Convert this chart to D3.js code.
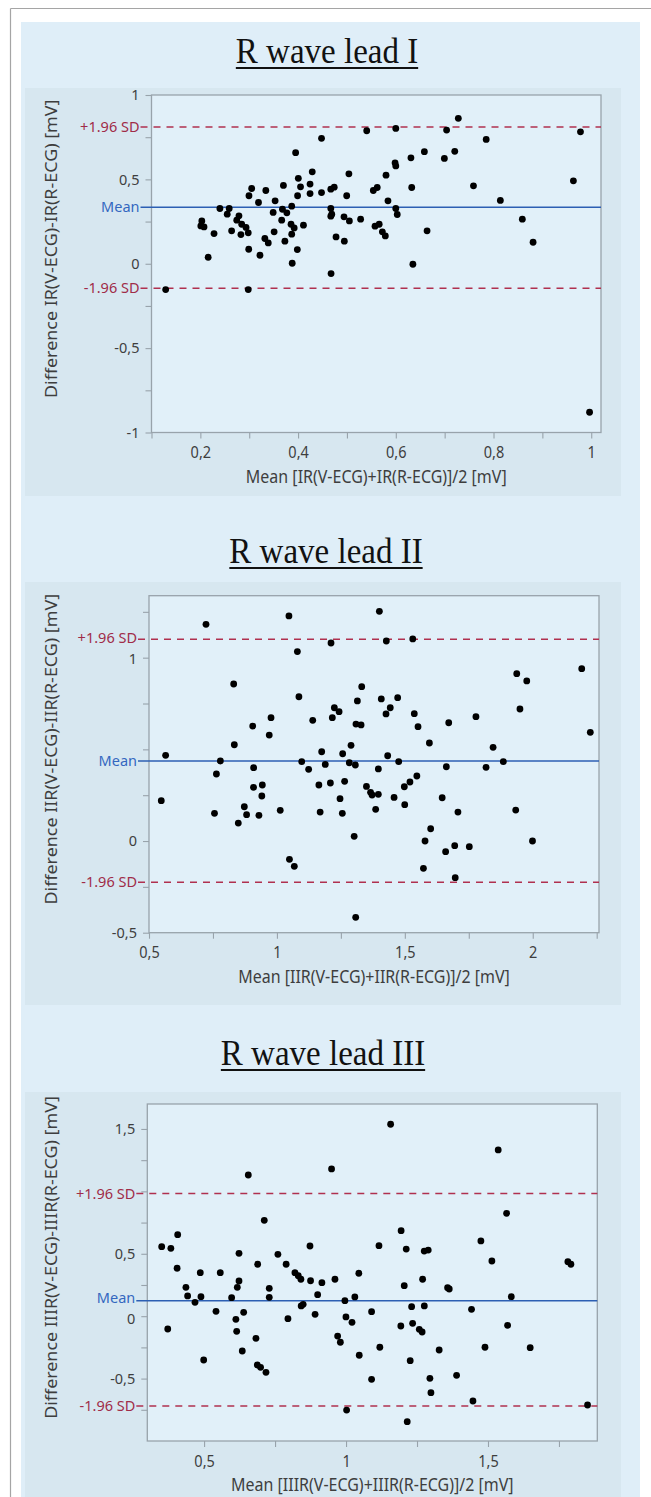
<!DOCTYPE html>
<html><head><meta charset="utf-8">
<script src="https://cdn.jsdelivr.net/npm/d3@7"></script>
<style>body{margin:0;background:#fff}svg{display:block}</style>
</head><body>
<svg id="c" width="651" height="1497"></svg>
<script>
// ---------- DATA ----------
const titles = ["R wave lead I", "R wave lead II", "R wave lead III"];
const xTitles = ["Mean [IR(V-ECG)+IR(R-ECG)]/2 [mV]", "Mean [IIR(V-ECG)+IIR(R-ECG)]/2 [mV]", "Mean [IIIR(V-ECG)+IIIR(R-ECG)]/2 [mV]"];
const yTitles = ["Difference IR(V-ECG)-IR(R-ECG) [mV]", "Difference IIR(V-ECG)-IIR(R-ECG) [mV]", "Difference IIIR(V-ECG)-IIIR(R-ECG) [mV]"];
const limitLabels = ["+1.96 SD", "Mean", "-1.96 SD"];

// [mean, difference]
const lead1Points = [
[0.5405,0.788],[0.448,0.743],[0.395,0.658],[0.429,0.545],[0.4005,0.506],[0.405,0.456],[0.4245,0.472],[0.4245,0.416],[0.399,0.403],[0.448,0.422],[0.467,0.442],[0.474,0.454],[0.504,0.533],[0.4995,0.403],[0.370,0.464],[0.334,0.434],[0.305,0.446],[0.2995,0.403],[0.319,0.363],[0.353,0.373],[0.349,0.304],[0.368,0.323],[0.377,0.302],[0.387,0.341],[0.3665,0.258],[0.3856,0.234],[0.392,0.2125],[0.411,0.2285],[0.387,0.175],[0.373,0.1335],[0.351,0.189],[0.3985,0.084],[0.388,0.003],[0.332,0.1495],[0.339,0.1235],[0.322,0.0505],[0.299,0.086],[0.240,0.3275],[0.259,0.3275],[0.255,0.294],[0.279,0.284],[0.2745,0.258],[0.2846,0.234],[0.2935,0.215],[0.298,0.183],[0.283,0.173],[0.264,0.195],[0.203,0.254],[0.201,0.224],[0.2075,0.218],[0.228,0.179],[0.216,0.0385],[0.129,-0.153],[0.298,-0.153],[0.467,0.3275],[0.467,0.282],[0.469,0.294],[0.494,0.278],[0.505,0.254],[0.4777,0.159],[0.4947,0.1335],[0.528,0.264],[0.4675,-0.058],
[0.728,0.862],[0.704,0.792],[0.600,0.802],[0.785,0.737],[0.978,0.782],[0.6585,0.664],[0.7207,0.666],[0.6994,0.624],[0.631,0.628],[0.5985,0.598],[0.600,0.580],[0.580,0.525],[0.562,0.452],[0.554,0.434],[0.6326,0.452],[0.759,0.462],[0.9635,0.4915],[0.584,0.373],[0.600,0.3275],[0.603,0.292],[0.814,0.375],[0.5575,0.2225],[0.566,0.234],[0.5725,0.189],[0.5786,0.165],[0.664,0.195],[0.859,0.264],[0.881,0.1275],[0.635,-0.003],[0.9966,-0.88]
];
const lead2Points = [
[0.7228,1.182],[1.047,1.2275],[1.080,1.033],[1.2115,1.080],[0.831,0.8565],[1.086,0.787],[1.3315,0.842],[1.3145,0.764],[1.2245,0.727],[1.243,0.7055],[1.2166,0.673],[0.977,0.673],[0.9054,0.627],[0.970,0.578],[1.140,0.6585],[1.309,0.638],[1.329,0.633],[0.8335,0.525],[1.2897,0.522],[0.565,0.4675],[1.175,0.487],[1.257,0.476],[0.779,0.4365],[1.097,0.433],[1.283,0.427],[1.3066,0.4146],[1.189,0.418],[0.909,0.400],[1.124,0.391],
[1.4005,1.253],[1.4277,1.091],[1.531,1.102],[1.9375,0.9127],[1.9766,0.873],[2.1915,0.940],[1.408,0.775],[1.472,0.782],[1.443,0.727],[1.4265,0.693],[1.537,0.6945],[1.5516,0.6236],[1.950,0.720],[1.778,0.678],[1.6716,0.645],[1.596,0.5346],[1.845,0.511],[2.225,0.593],[1.433,0.465],[1.476,0.433],[1.885,0.433],[1.3965,0.393],[1.6623,0.405],[1.8175,0.402],
[0.548,0.220],[0.7635,0.3655],[0.756,0.151],[0.8726,0.187],[0.8815,0.1435],[0.849,0.098],[0.9085,0.293],[0.943,0.3055],[0.941,0.2455],[0.9297,0.140],[1.013,0.1675],[1.049,-0.100],[1.068,-0.138],[1.164,0.3055],[1.209,0.3164],[1.169,0.158],[1.2467,0.2308],[1.2647,0.3257],[1.2557,0.151],[1.302,0.0256],[1.308,-0.416],[1.35,0.298],[1.366,0.2655],[1.372,0.251],[1.3964,0.2546],[1.386,0.173],[1.458,0.238],[1.498,0.296],[1.520,0.322],[1.547,0.3546],[1.4996,0.198],[1.579,0.000],[1.5727,-0.149],[1.601,0.067],[1.646,0.236],[1.6595,-0.058],[1.695,-0.0256],[1.697,-0.2],[1.7076,0.158],[1.752,-0.031],[1.9335,0.169],[1.999,0.000]
];
const lead3Points = [
[0.949,1.1795],[0.6557,1.131],[0.712,0.768],[0.407,0.653],[0.3507,0.557],[0.383,0.544],[0.405,0.384],[0.4866,0.3486],[0.557,0.3486],[0.623,0.504],[0.6887,0.416],[0.760,0.496],[0.789,0.416],[0.820,0.3486],[0.873,0.5625],[1.045,0.344],
[0.436,0.2316],[0.442,0.162],[0.489,0.156],[0.468,0.111],[0.372,-0.1026],[0.4986,-0.351],[0.542,0.039],[0.623,0.282],[0.617,0.2316],[0.597,0.148],[0.612,-0.025],[0.6394,0.031],[0.6148,-0.121],[0.6345,-0.279],[0.6827,-0.177],[0.6873,-0.391],[0.699,-0.41],[0.718,-0.45],[0.7296,0.2236],[0.7296,0.1514],[0.7954,-0.02],[0.8317,0.3245],[0.841,0.296],[0.875,0.284],[0.915,0.2685],[0.961,0.296],[0.900,0.172],[0.849,0.095],[0.842,0.082],[0.891,0.015],[0.996,0.124],[1.031,0.154],[0.9997,-0.006],[1.021,-0.049],[0.9704,-0.159],[0.98,-0.209],[1.0465,-0.313],[1.002,-0.752],
[1.157,1.5376],[1.536,1.3317],[1.5655,0.8245],[1.194,0.685],[1.116,0.565],[1.212,0.538],[1.2754,0.522],[1.2895,0.530],[1.475,0.6026],[1.5137,0.442],[1.7813,0.437],[1.792,0.416],
[1.205,0.2444],[1.2697,0.296],[1.3577,0.228],[1.3635,0.218],[1.582,0.156],[1.09,0.036],[1.231,0.076],[1.2757,0.082],[1.442,0.055],[1.193,-0.0785],[1.2345,-0.057],[1.258,-0.105],[1.268,-0.1266],[1.569,-0.073],[1.119,-0.249],[1.328,-0.271],[1.4894,-0.249],[1.6486,-0.252],[1.226,-0.3566],[1.09,-0.5056],[1.2954,-0.4976],[1.299,-0.613],[1.3894,-0.4736],[1.447,-0.6795],[1.8507,-0.7115],[1.2155,-0.845]
];

// limits: [+1.96 SD, mean, -1.96 SD]
const lead1Limits = [0.81, 0.335, -0.145];
const lead2Limits = [1.10, 0.436, -0.225];
const lead3Limits = [0.982, 0.124, -0.72];

const lead1XDomain = [0.1, 1.02], lead1YDomain = [-1, 1];
const lead2XDomain = [0.5, 2.259], lead2YDomain = [-0.5, 1.338];
const lead3XDomain = [0.3, 1.885], lead3YDomain = [-1, 1.70];

const lead1XTicks = [0.1,0.2,0.3,0.4,0.5,0.6,0.7,0.8,0.9,1.0];
const lead1XLabelValues = [0.2,0.4,0.6,0.8,1.0];
const lead1XLabels = ["0,2","0,4","0,6","0,8","1"];
const lead1YTicks = [-1,-0.75,-0.5,-0.25,0,0.25,0.5,0.75,1];
const lead1YLabelValues = [-1,-0.5,0,0.5,1];
const lead1YLabels = ["-1","-0,5","0","0,5","1"];

const lead2XTicks = [0.5,0.75,1,1.25,1.5,1.75,2,2.25];
const lead2XLabelValues = [0.5,1,1.5,2];
const lead2XLabels = ["0,5","1","1,5","2"];
const lead2YTicks = [-0.5,-0.25,0,0.25,0.5,0.75,1,1.25];
const lead2YLabelValues = [-0.5,0,1];
const lead2YLabels = ["-0,5","0","1"];

const lead3XTicks = [0.5,0.75,1,1.25,1.5,1.75];
const lead3XLabelValues = [0.5,1,1.5];
const lead3XLabels = ["0,5","1","1,5"];
const lead3YTicks = [-0.75,-0.5,-0.25,0,0.25,0.5,0.75,1,1.25,1.5];
const lead3YLabelValues = [-0.5,0,0.5,1.5];
const lead3YLabels = ["-0,5","0","0,5","1,5"];

// ---------- LAYOUT / STYLE ----------
const S = 1.12; // vertical text stretch seen in the reference (titles)
const C = {
  figBg: "#dfeef8", panelBg: "#d7e7f0", plotBg: "#e1f0f9", frame: "#98a3ab",
  tickText: "#3e3e3e", mean: "#2c5fb3", limit: "#b0304f", dot: "#000"
};
const layout = [
  {l:151.5, r:601, t:95, b:432.5, bg0:88, bg1:496, ty:63, tx:327},
  {l:149, r:599, t:595.7, b:932.7, bg0:582, bg1:1005, ty:563, tx:326},
  {l:147.3, r:597.3, t:1104, b:1441, bg0:1092, bg1:1500, ty:1065, tx:323}
];
const panels = [
  {points:lead1Points, limits:lead1Limits, xd:lead1XDomain, yd:lead1YDomain, xt:lead1XTicks, xlv:lead1XLabelValues, xl:lead1XLabels, yt:lead1YTicks, ylv:lead1YLabelValues, yl:lead1YLabels},
  {points:lead2Points, limits:lead2Limits, xd:lead2XDomain, yd:lead2YDomain, xt:lead2XTicks, xlv:lead2XLabelValues, xl:lead2XLabels, yt:lead2YTicks, ylv:lead2YLabelValues, yl:lead2YLabels},
  {points:lead3Points, limits:lead3Limits, xd:lead3XDomain, yd:lead3YDomain, xt:lead3XTicks, xlv:lead3XLabelValues, xl:lead3XLabels, yt:lead3YTicks, ylv:lead3YLabelValues, yl:lead3YLabels}
];

const svg = d3.select("#c");
const SANS = "'Noto Sans', 'Open Sans', sans-serif";
const LBL = 14.5;

// outer frame
svg.append("rect").attr("width",651).attr("height",1497).attr("fill","#fff");
svg.append("rect").attr("x",21).attr("y",22).attr("width",619).attr("height",1480).attr("fill",C.figBg);
svg.append("line").attr("x1",10.5).attr("x2",651).attr("y1",8.5).attr("y2",8.5).attr("stroke","#a5a5a5").attr("stroke-width",1.2);
svg.append("line").attr("x1",10.5).attr("x2",10.5).attr("y1",8.5).attr("y2",1497).attr("stroke","#a5a5a5").attr("stroke-width",1.2);

panels.forEach((p, i) => {
  const L = layout[i];
  const g = svg.append("g");
  g.append("rect").attr("x",25).attr("y",L.bg0).attr("width",596).attr("height",L.bg1-L.bg0).attr("fill",C.panelBg);

  // title
  const tt = g.append("text").attr("transform",`translate(${L.tx},${L.ty}) scale(1,1.06)`).attr("text-anchor","middle")
    .attr("font-family","'Liberation Serif','Times New Roman',serif").attr("font-size",33)
    .attr("fill","#111").text(titles[i]);
  const tw = tt.node().getComputedTextLength();
  g.append("line").attr("x1",L.tx-tw/2).attr("x2",L.tx+tw/2).attr("y1",L.ty+5).attr("y2",L.ty+5)
    .attr("stroke","#111").attr("stroke-width",1.8);

  const x = d3.scaleLinear().domain(p.xd).range([L.l, L.r]);
  const y = d3.scaleLinear().domain(p.yd).range([L.b, L.t]);

  g.append("rect").attr("x",L.l).attr("y",L.t).attr("width",L.r-L.l).attr("height",L.b-L.t)
    .attr("fill",C.plotBg).attr("stroke",C.frame).attr("stroke-width",1.3);

  const ya = g.append("g").attr("transform",`translate(${L.l},0)`)
    .call(d3.axisLeft(y).tickValues(p.yt).tickSize(6).tickFormat(""));
  const xa = g.append("g").attr("transform",`translate(0,${L.b})`)
    .call(d3.axisBottom(x).tickValues(p.xt).tickSize(6).tickFormat(""));
  [ya, xa].forEach(a => { a.select(".domain").remove(); a.selectAll("line").attr("stroke",C.frame).attr("stroke-width",1.1); });

  const yl = g.append("g").attr("transform",`translate(${L.l},0)`)
    .call(d3.axisLeft(y).tickValues(p.ylv).tickSize(0).tickPadding(12).tickFormat((d,k)=>p.yl[k]));
  yl.select(".domain").remove();
  yl.selectAll("text").attr("font-family",SANS).attr("font-size",LBL).attr("fill",C.tickText);
  const xl = g.append("g").attr("transform",`translate(0,${L.b})`)
    .call(d3.axisBottom(x).tickValues(p.xlv).tickSize(0).tickFormat((d,k)=>p.xl[k]));
  xl.select(".domain").remove();
  xl.selectAll("text").attr("font-family",SANS).attr("font-size",LBL).attr("fill",C.tickText)
    .attr("y",14).attr("transform",`scale(1,1.06)`);

  const cols = [C.limit, C.mean, C.limit];
  const limTexts = [];
  p.limits.forEach((v, k) => {
    g.append("line").attr("x1",L.l-11).attr("x2",L.r).attr("y1",y(v)).attr("y2",y(v))
      .attr("stroke",cols[k]).attr("stroke-width",1.5)
      .attr("stroke-dasharray", k===1 ? null : "7,6");
    limTexts.push(g.append("text").attr("x",L.l-12).attr("y",y(v))
      .attr("dy","0.34em").attr("text-anchor","end").attr("font-family",SANS).attr("font-size",LBL)
      .attr("fill", k===1 ? "#3467c0" : "#a02c48").text(limitLabels[k]).node());
  });

  // nudge tick labels that would collide with limit labels
  yl.selectAll("text").each(function() {
    const tb = this.getBoundingClientRect();
    limTexts.forEach(ln => {
      const lb = ln.getBoundingClientRect();
      const ov = Math.min(tb.bottom, lb.bottom) - Math.max(tb.top, lb.top);
      if (ov > 0 && tb.left < lb.right && tb.right > lb.left) {
        const dir = (tb.top + tb.bottom) / 2 >= (lb.top + lb.bottom) / 2 ? 1 : -1;
        const half = (ov + 0.6) / 2;
        d3.select(this).attr("y", (+d3.select(this).attr("y") || 0) + dir * half);
        d3.select(ln).attr("y", +d3.select(ln).attr("y") - dir * half);
      }
    });
  });

  g.append("g").selectAll("circle").data(p.points).join("circle")
    .attr("cx",d=>x(d[0])).attr("cy",d=>y(d[1])).attr("r",3.4).attr("fill",C.dot);

  g.append("text").attr("transform",`translate(${(L.l+L.r)/2},${L.b+50}) scale(1,${S})`)
    .attr("text-anchor","middle").attr("font-family",SANS).attr("font-size",16).attr("fill",C.tickText)
    .text(xTitles[i]);
  g.append("text").attr("transform",`translate(51,${(L.t+L.b)/2-15}) scale(1,${S}) rotate(-90)`)
    .attr("text-anchor","middle").attr("dy","0.35em").attr("font-family",SANS).attr("font-size",16).attr("fill",C.tickText)
    .text(yTitles[i]);
});
</script>
</body></html>
